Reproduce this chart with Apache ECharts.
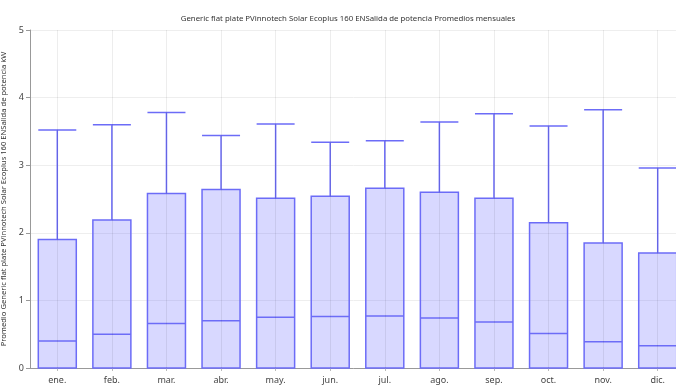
<!DOCTYPE html>
<html>
<head>
<meta charset="utf-8">
<style>
  html, body { margin: 0; padding: 0; background: #fff; }
  #chart { width: 676px; height: 389px; }
</style>
<script src="https://cdn.jsdelivr.net/npm/echarts@6/dist/echarts.min.js"></script>
</head>
<body>
<div id="chart"></div>
<script>
// Monthly output distribution (kW)
const months = ['ene.', 'feb.', 'mar.', 'abr.', 'may.', 'jun.', 'jul.', 'ago.', 'sep.', 'oct.', 'nov.', 'dic.'];
const minVals = [0, 0, 0, 0, 0, 0, 0, 0, 0, 0, 0, 0];
const q1Vals = [0, 0, 0, 0, 0, 0, 0, 0, 0, 0, 0, 0];
const medianVals = [0.40, 0.50, 0.66, 0.70, 0.75, 0.76, 0.77, 0.74, 0.68, 0.51, 0.39, 0.33];
const q3Vals = [1.90, 2.19, 2.58, 2.64, 2.51, 2.54, 2.66, 2.60, 2.51, 2.15, 1.85, 1.70];
const maxVals = [3.52, 3.60, 3.78, 3.44, 3.61, 3.34, 3.36, 3.64, 3.76, 3.58, 3.82, 2.96];
const yTicks = [0, 1, 2, 3, 4, 5];

const boxData = months.map((m, i) => [minVals[i], q1Vals[i], medianVals[i], q3Vals[i], maxVals[i]]);

const chart = echarts.init(document.getElementById('chart'), null, { renderer: 'canvas' });
chart.setOption({
  animation: false,
  backgroundColor: '#fff',
  textStyle: { fontFamily: '"Noto Sans", "Open Sans", sans-serif' },
  title: {
    text: 'Generic flat plate PVinnotech Solar Ecoplus 160 ENSalida de potencia Promedios mensuales',
    left: 343,
    textAlign: 'center',
    top: 10,
    textStyle: { fontSize: 7.8, fontWeight: 'normal', color: '#333' }
  },
  grid: { left: 30, top: 30, width: 655, height: 338, outerBoundsMode: 'none', containLabel: false },
  xAxis: {
    type: 'category',
    data: months,
    boundaryGap: true,
    axisLine: { lineStyle: { color: '#999', width: 1 } },
    axisTick: { show: true, alignWithLabel: true, length: 3, lineStyle: { color: '#bbb' } },
    axisLabel: { color: '#444', fontSize: 9, margin: 8 },
    splitLine: { show: false }
  },
  yAxis: {
    type: 'value',
    min: yTicks[0],
    max: yTicks[yTicks.length - 1],
    interval: 1,
    name: 'Promedio Generic flat plate PVinnotech Solar Ecoplus 160 ENSalida de potencia kW',
    nameLocation: 'middle',
    nameGap: 21,
    nameTextStyle: { fontSize: 7.6, color: '#333' },
    axisLine: { show: true, lineStyle: { color: '#999', width: 1 } },
    axisTick: { show: true, length: 4, lineStyle: { color: '#999' } },
    axisLabel: { color: '#444', fontSize: 9, margin: 6 },
    splitLine: { show: true, lineStyle: { color: '#eeeeee', width: 1 } }
  },
  series: [{
    type: 'boxplot',
    data: boxData,
    boxWidth: [38, 38],
    itemStyle: {
      color: 'rgba(100, 100, 255, 0.25)',
      borderColor: '#6c6cf7',
      borderWidth: 1.5
    },
    emphasis: { disabled: true },
    // vertical grid lines through each month's centre
    markLine: {
      silent: true,
      symbol: 'none',
      label: { show: false },
      lineStyle: { color: 'rgba(0, 0, 0, 0.07)', type: 'solid', width: 1 },
      data: months.map(m => ({ xAxis: m }))
    }
  }]
});
</script>
</body>
</html>
